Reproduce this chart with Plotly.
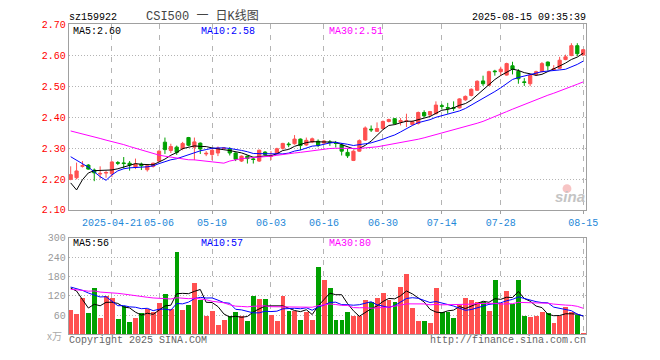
import plotly.graph_objects as go
import pandas as pd

# ---------------- data ----------------
dates = [
    "2025-04-10", "2025-04-11", "2025-04-14", "2025-04-15", "2025-04-16", "2025-04-17", "2025-04-18",
    "2025-04-21", "2025-04-22", "2025-04-23", "2025-04-24", "2025-04-25", "2025-04-28", "2025-04-29",
    "2025-04-30", "2025-05-06", "2025-05-07", "2025-05-08", "2025-05-09", "2025-05-12", "2025-05-13",
    "2025-05-14", "2025-05-15", "2025-05-16", "2025-05-19", "2025-05-20", "2025-05-21", "2025-05-22",
    "2025-05-23", "2025-05-26", "2025-05-27", "2025-05-28", "2025-05-29", "2025-05-30", "2025-06-03",
    "2025-06-04", "2025-06-05", "2025-06-06", "2025-06-09", "2025-06-10", "2025-06-11", "2025-06-12",
    "2025-06-13", "2025-06-16", "2025-06-17", "2025-06-18", "2025-06-19", "2025-06-20", "2025-06-23",
    "2025-06-24", "2025-06-25", "2025-06-26", "2025-06-27", "2025-06-30", "2025-07-01", "2025-07-02",
    "2025-07-03", "2025-07-04", "2025-07-07", "2025-07-08", "2025-07-09", "2025-07-10", "2025-07-11",
    "2025-07-14", "2025-07-15", "2025-07-16", "2025-07-17", "2025-07-18", "2025-07-21", "2025-07-22",
    "2025-07-23", "2025-07-24", "2025-07-25", "2025-07-28", "2025-07-29", "2025-07-30", "2025-07-31",
    "2025-08-01", "2025-08-04", "2025-08-05", "2025-08-06", "2025-08-07", "2025-08-08", "2025-08-11",
    "2025-08-12", "2025-08-13", "2025-08-14", "2025-08-15",
]

open_ = [
    2.199, 2.204, 2.241, 2.245, 2.229, 2.216, 2.219, 2.217, 2.253, 2.252,
    2.251, 2.238, 2.248, 2.230, 2.241, 2.258, 2.319, 2.292, 2.303, 2.299,
    2.334, 2.303, 2.316, 2.281, 2.279, 2.284, 2.299, 2.297, 2.284, 2.258,
    2.274, 2.265, 2.258, 2.287, 2.273, 2.282, 2.299, 2.313, 2.314, 2.329,
    2.310, 2.320, 2.322, 2.316, 2.320, 2.317, 2.310, 2.286, 2.260, 2.290,
    2.326, 2.361, 2.354, 2.363, 2.386, 2.395, 2.384, 2.386, 2.376, 2.380,
    2.415, 2.407, 2.411, 2.437, 2.431, 2.431, 2.430, 2.456, 2.470, 2.487,
    2.517, 2.503, 2.549, 2.547, 2.536, 2.566, 2.548, 2.514, 2.508, 2.538,
    2.547, 2.578, 2.554, 2.558, 2.586, 2.599, 2.631, 2.601,
]
high = [
    2.241, 2.253, 2.258, 2.248, 2.234, 2.241, 2.227, 2.258, 2.258, 2.271,
    2.258, 2.266, 2.253, 2.245, 2.253, 2.293, 2.334, 2.314, 2.308, 2.320,
    2.336, 2.334, 2.318, 2.290, 2.295, 2.305, 2.303, 2.303, 2.286, 2.276,
    2.276, 2.272, 2.295, 2.290, 2.290, 2.301, 2.317, 2.319, 2.342, 2.331,
    2.334, 2.334, 2.328, 2.326, 2.326, 2.323, 2.316, 2.297, 2.293, 2.328,
    2.370, 2.373, 2.383, 2.389, 2.395, 2.397, 2.397, 2.411, 2.389, 2.418,
    2.422, 2.420, 2.451, 2.443, 2.446, 2.451, 2.461, 2.470, 2.493, 2.519,
    2.534, 2.550, 2.553, 2.563, 2.576, 2.579, 2.555, 2.526, 2.539, 2.550,
    2.578, 2.580, 2.568, 2.595, 2.602, 2.639, 2.639, 2.620,
]
low = [
    2.196, 2.199, 2.237, 2.230, 2.193, 2.201, 2.204, 2.206, 2.245, 2.234,
    2.227, 2.232, 2.229, 2.224, 2.237, 2.255, 2.281, 2.284, 2.278, 2.293,
    2.306, 2.261, 2.281, 2.274, 2.261, 2.274, 2.296, 2.276, 2.258, 2.255,
    2.250, 2.250, 2.255, 2.277, 2.261, 2.279, 2.295, 2.303, 2.311, 2.293,
    2.307, 2.316, 2.303, 2.312, 2.307, 2.302, 2.276, 2.268, 2.258, 2.288,
    2.323, 2.352, 2.352, 2.360, 2.383, 2.376, 2.373, 2.368, 2.373, 2.376,
    2.399, 2.404, 2.409, 2.425, 2.411, 2.420, 2.428, 2.453, 2.467, 2.485,
    2.501, 2.501, 2.534, 2.534, 2.534, 2.538, 2.508, 2.501, 2.500, 2.534,
    2.545, 2.550, 2.552, 2.555, 2.584, 2.597, 2.597, 2.599,
]
close = [
    2.214, 2.226, 2.243, 2.232, 2.220, 2.218, 2.221, 2.255, 2.251, 2.250,
    2.245, 2.248, 2.243, 2.243, 2.251, 2.290, 2.295, 2.305, 2.286, 2.315,
    2.309, 2.320, 2.297, 2.283, 2.293, 2.300, 2.300, 2.284, 2.264, 2.274,
    2.266, 2.263, 2.293, 2.279, 2.275, 2.298, 2.315, 2.311, 2.329, 2.308,
    2.325, 2.330, 2.309, 2.323, 2.318, 2.315, 2.290, 2.275, 2.290, 2.324,
    2.365, 2.359, 2.363, 2.386, 2.392, 2.379, 2.389, 2.388, 2.385, 2.415,
    2.404, 2.418, 2.439, 2.435, 2.429, 2.429, 2.459, 2.467, 2.490, 2.516,
    2.508, 2.547, 2.547, 2.555, 2.573, 2.555, 2.524, 2.512, 2.536, 2.547,
    2.573, 2.566, 2.556, 2.584, 2.595, 2.631, 2.605, 2.618,
]
# volume, unit: 万 (x10k)
volume = [
    77, 65, 113, 68, 144, 53, 119, 114, 50, 89,
    38, 53, 68, 80, 71, 97, 125, 79, 258, 77,
    92, 161, 108, 59, 74, 29, 47, 59, 71, 59,
    41, 119, 110, 110, 62, 41, 119, 74, 74, 44,
    71, 44, 209, 171, 144, 47, 44, 71, 59, 59,
    107, 101, 114, 128, 107, 101, 149, 188, 83, 41,
    41, 35, 146, 71, 71, 53, 91, 114, 107, 101,
    101, 74, 170, 97, 134, 95, 170, 59, 56, 59,
    71, 68, 35, 59, 86, 71, 62, 5,
]
# sessions before the visible window (needed for the moving averages)
prior_close = [
    2.36, 2.37, 2.38, 2.39, 2.37, 2.38, 2.38,
    2.40, 2.41, 2.43, 2.42, 2.43, 2.42, 2.43,
    2.41, 2.40, 2.39, 2.40, 2.38, 2.39,
    2.33, 2.35, 2.36, 2.37, 2.373,
    2.34, 2.078, 2.122, 2.183,
]
prior_volume = [
    150, 130, 145, 120, 160, 135, 140, 125, 155, 130,
    140, 120, 150, 135, 125, 140, 130, 145, 130, 125,
    110, 170, 150, 210, 110,
    110, 245, 200, 85,
]

tick_dates = ["2025-04-21", "2025-05-06", "2025-05-19", "2025-06-03", "2025-06-16",
              "2025-06-30", "2025-07-14", "2025-07-28", "2025-08-15"]
tick_labels = ["2025-04-21", "05-06", "05-19", "06-03", "06-16", "06-30", "07-14", "07-28", "08-15"]
price_ticks = [2.10, 2.20, 2.30, 2.40, 2.50, 2.60, 2.70]
price_tick_text = ["2.10", "2.20", "2.30", "2.40", "2.50", "2.60", "2.70"]
vol_ticks = [60, 120, 180, 240, 300]
vol_tick_text = ["60", "120", "180", "240", "300"]

price_ma_labels = ["MA5:2.60", "MA10:2.58", "MA30:2.51"]
vol_ma_labels = ["MA5:56", "MA10:57", "MA30:80"]

# ---------------- derived ----------------
n = len(dates)
xs = list(range(n))
cs = pd.Series(prior_close + close)
vs = pd.Series(prior_volume + volume, dtype=float)
ma_p = {k: cs.rolling(k).mean().iloc[-n:].tolist() for k in (5, 10, 30)}
ma_v = {k: vs.rolling(k).mean().iloc[-n:].tolist() for k in (5, 10, 30)}

UP = "#ff5050"
DOWN = "#00a000"
MA_COLORS = {5: "#000000", 10: "#0000ff", 30: "#ff00ff"}
MONO = "Liberation Mono, DejaVu Sans Mono, monospace"
GRID = "#b4b4b4"
FRAME = "#a0a0a0"

W, H = 660, 360
def px(x):
    return x / W
def py(y):
    return 1 - y / H

fig = go.Figure()
fig.add_trace(go.Candlestick(
    x=xs, open=open_, high=high, low=low, close=close,
    increasing=dict(line=dict(color=UP, width=1), fillcolor=UP),
    decreasing=dict(line=dict(color=DOWN, width=1), fillcolor=DOWN),
    whiskerwidth=0, hoverinfo="skip", xaxis="x", yaxis="y",
))
for k in (5, 10, 30):
    fig.add_trace(go.Scatter(x=xs, y=ma_p[k], mode="lines",
                             line=dict(color=MA_COLORS[k], width=1),
                             hoverinfo="skip", xaxis="x", yaxis="y"))

bar_colors = [UP if c >= o else DOWN for o, c in zip(open_, close)]
fig.add_trace(go.Bar(x=xs, y=volume, marker=dict(color=bar_colors, line=dict(width=0)),
                     width=0.82, hoverinfo="skip", xaxis="x2", yaxis="y2"))
for k in (5, 10, 30):
    fig.add_trace(go.Scatter(x=xs, y=ma_v[k], mode="lines",
                             line=dict(color=MA_COLORS[k], width=1),
                             hoverinfo="skip", xaxis="x2", yaxis="y2"))

tickvals = [dates.index(d) for d in tick_dates]
xdom = [px(70), px(597)]
xrange = [-0.333, 87.5]

common_x = dict(domain=xdom, range=xrange, tickvals=tickvals, showgrid=True,
                gridcolor=GRID, griddash="5px,6px", gridwidth=1, showline=True,
                mirror=True, linecolor=FRAME, linewidth=1, zeroline=False, fixedrange=True)
fig.update_layout(
    width=W, height=H, margin=dict(l=0, r=0, t=0, b=0),
    paper_bgcolor="white", plot_bgcolor="white", showlegend=False,
    boxgap=0.22, bargap=0,
    xaxis=dict(**common_x, anchor="y", ticktext=tick_labels, ticks="outside", ticklen=3,
               tickcolor=FRAME, tickfont=dict(family=MONO, size=10, color="#1e88d8"),
               rangeslider=dict(visible=False)),
    yaxis=dict(domain=[py(212), py(20)], range=[2.10, 2.70], tickvals=price_ticks,
               ticktext=price_tick_text, showgrid=True, gridcolor=GRID, griddash="1px,2px",
               showline=True, mirror=True, linecolor=FRAME, linewidth=1, zeroline=False,
               ticks="", tickfont=dict(family=MONO, size=10, color="#ff0000"), anchor="x"),
    xaxis2=dict(**common_x, anchor="y2", matches="x", showticklabels=False, ticks=""),
    yaxis2=dict(domain=[py(340.7), py(240.7)], range=[0, 300], tickvals=vol_ticks,
                ticktext=vol_tick_text, showgrid=True, gridcolor=GRID, griddash="1px,2px",
                showline=True, mirror=True, linecolor=FRAME, linewidth=1, zeroline=False,
                ticks="", tickfont=dict(family=MONO, size=10, color="#999999"), anchor="x2"),
)

def ann(text, x, y, color, xanchor="left", size=10, family=MONO, **kw):
    fig.add_annotation(text=text, x=px(x), y=py(y), xref="paper", yref="paper",
                       xanchor=xanchor, yanchor="middle", showarrow=False,
                       borderpad=0,
                       font=dict(family=family, size=size, color=color, **kw))

ann("sz159922", 69, 12.5, "#000000")
ann("CSI500 一 日K线图", 206, 12, "#444444", xanchor="center", size=12,
    family="Liberation Mono, Noto Sans CJK SC, monospace")
ann("2025-08-15 09:35:39", 598, 12.5, "#000000", xanchor="right")

for lbl, xpos, k in zip(price_ma_labels, (73, 204, 334), (5, 10, 30)):
    ann(lbl, xpos, 27, MA_COLORS[k])
for lbl, xpos, k in zip(vol_ma_labels, (73, 204, 334), (5, 10, 30)):
    ann(lbl, xpos, 247, MA_COLORS[k])

ann("x万", 64, 341.5, "#aaaaaa", xanchor="right", size=10, family="Noto Sans CJK SC, sans-serif")
ann("Copyright 2025 SINA.COM", 69, 347, "#666666")
ann("http://finance.sina.com.cn", 598, 347, "#666666", xanchor="right")

# sina watermark
fig.add_shape(type="circle", xref="paper", yref="paper",
              x0=px(573), x1=px(582), y0=py(194.5), y1=py(185.5),
              fillcolor="#f7c4c4", line=dict(width=0), layer="above")
ann("sina", 581, 198.5, "#c4c4c4", xanchor="center", size=15,
    family="Liberation Sans, Arial, sans-serif", style="italic", weight="bold")

fig.write_html("out.html")
